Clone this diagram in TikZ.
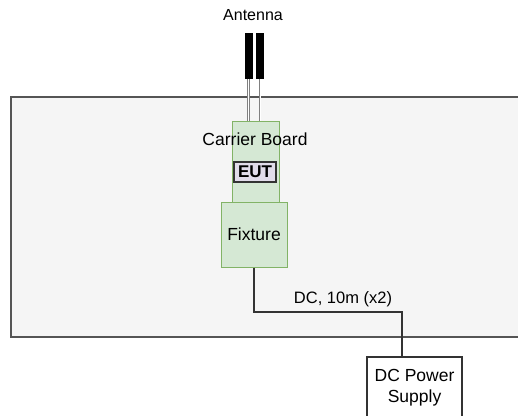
\documentclass[tikz,border=0pt]{standalone}
\usepackage{fontspec}
\setmainfont{Liberation Sans}
\definecolor{roomfill}{HTML}{F5F5F5}
\definecolor{roomline}{HTML}{555555}
\definecolor{greenfill}{HTML}{D5E8D4}
\definecolor{greenline}{HTML}{82B366}
\definecolor{eutfill}{HTML}{E1DCEA}
\definecolor{wirecol}{HTML}{333333}
\begin{document}
\begin{tikzpicture}[x=1pt,y=-1pt,
  room/.style={fill=roomfill,draw=roomline,line width=1.5pt},
  greenbox/.style={draw=greenline,fill=greenfill,line width=1pt,inner sep=0pt},
  antbar/.style={fill=black,draw=none,minimum width=8pt,minimum height=46pt,inner sep=0pt},
  feed/.style={draw=gray,double=white,double distance=1pt,line width=0.8pt},
  wire/.style={draw=wirecol,line width=1.3pt},
  lbl/.style={font=\fontsize{17}{20}\selectfont,inner sep=0pt},
  eutbox/.style={draw=wirecol,fill=eutfill,line width=1.3pt,inner sep=0pt,minimum width=42pt,minimum height=20pt,font=\fontsize{17}{19}\selectfont\bfseries},
  psubox/.style={draw=wirecol,fill=white,line width=1.3pt,inner sep=0pt,minimum width=95pt,minimum height=62pt,align=center,font=\fontsize{17.5}{21}\selectfont}
]
\clip (0,0) rectangle (518,415);
\useasboundingbox (0,0) rectangle (518,415);
\fill[white] (0,0) rectangle (518,415);
\draw[room] (11,97) rectangle (545,337);
\node[antbar] (barL) at (248.5,56) {};
\node[antbar] (barR) at (260,56) {};
\node[lbl,font=\fontsize{16}{19}\selectfont] (antlbl) at (253,15) {Antenna};
\node[greenbox,minimum width=47pt,minimum height=81pt] (carrier) at (255.5,161.5) {};
\node[greenbox,minimum width=66pt,minimum height=65pt,font=\fontsize{17.5}{21}\selectfont] (fixture) at (254,234.5) {Fixture};
\node[lbl,font=\fontsize{17.5}{21}\selectfont] (carrierlbl) at (255,139) {Carrier Board};
\node[eutbox] (eut) at (255,172) {EUT};
\draw[feed] (barL.south) -- (barL.south |- carrier.north);
\draw[feed] (barR.south) -- (barR.south |- carrier.north);
\node[psubox] (psu) at (414.5,388) {DC Power\\Supply};
\coordinate (bendA) at (254,312);
\coordinate (bendB) at (402,312);
\draw[wire] (fixture.south) -- (bendA) -- (bendB) -- (bendB |- psu.north);
\node[lbl,font=\fontsize{16.5}{20}\selectfont] (dclbl) at (343,299) {DC, 10m (x2)};
\end{tikzpicture}
\end{document}
